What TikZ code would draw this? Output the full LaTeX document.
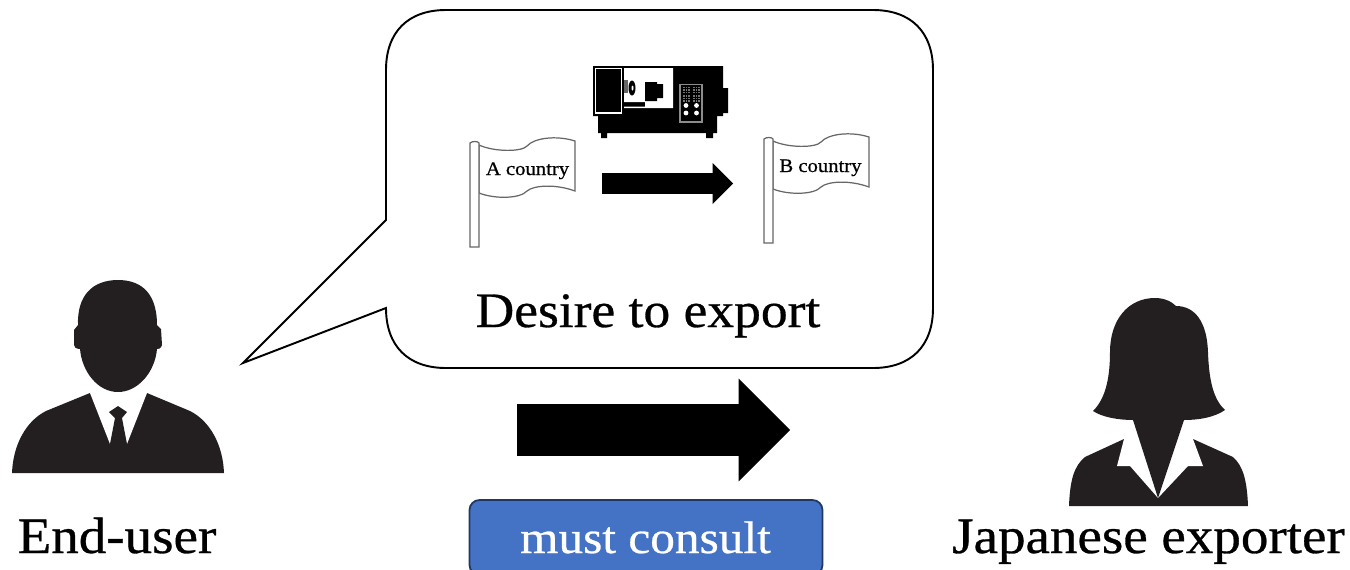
\documentclass[tikz,border=0pt]{standalone}
\usepackage{fontspec}
\setmainfont[FakeStretch=1.08,FakeBold=0.6]{Liberation Serif}
\usepackage{tikz}
\usetikzlibrary{shapes,arrows}
\usetikzlibrary{positioning}
\definecolor{silhouette}{HTML}{231F20}
\definecolor{consultblue}{HTML}{4472C4}
\definecolor{consultedge}{HTML}{203864}
\newcommand{\px}{0.02cm}
\tikzset{
  blockarrow/.style={single arrow,fill=black,outer sep=0pt,inner xsep=0pt,anchor=west,
    inner ysep=#1*0.25*\px,single arrow head extend=#1*0.25*\px},
  bigtext/.style={font=\fontsize{29}{32}\selectfont,inner sep=0pt,anchor=base},
  flagtext/.style={font=\fontsize{10.9}{13}\selectfont,inner sep=0pt,anchor=base},
  man/.style={fill=silhouette,draw=none},
  flagline/.style={draw=black!60,line width=0.7pt,fill=white},
  countryflag/.pic={
    \path[flagline] (479,145) .. controls (494,152) and (522,152) .. (527,146)
       .. controls (534,138) and (556,135) .. (575,141) -- (575,191)
       .. controls (556,184) and (534,185) .. (527,191)
       .. controls (520,199) and (494,199) .. (479,193) -- cycle;
    \path[flagline] (470,143) .. controls (472,141) and (478,141) .. (479,143)
       -- (479,247) -- (470,247) -- cycle;
  }
}

\begin{document}
\begin{tikzpicture}[x=\px,y=-\px]
      \path[clip,use as bounding box] (0,0) rectangle (1350,569);

      \draw[black,line width=1.1pt,fill=white]
        (386,220) -- (386,70) .. controls (386,32) and (408,10) .. (446,10)
        -- (873,10) .. controls (911,10) and (933,32) .. (933,70)
        -- (933,308) .. controls (933,346) and (911,368) .. (873,368)
        -- (446,368) .. controls (408,368) and (386,346) .. (386,308)
        -- (243,363) -- cycle;

      \pic {countryflag};
      \pic at (294,-4) {countryflag};
      \node[flagtext] (country_a) at (527.5,175) {A country};
      \node[flagtext] (country_b) at (820.5,172) {B country};

      \node[blockarrow=40, minimum height=131*\px] (ship) at (602,183.5) {};
      \node[blockarrow=102,minimum height=273*\px] (consult) at (517,430) {};

      % lathe
      \fill[black] (593,66) rectangle (723,116) (723,88) rectangle (728,113)
                   (598,116) rectangle (717,133)
                   (601,133) rectangle (607,138) (706,133) rectangle (713,138);
      \draw[white,line width=0.7pt] (595.5,68.5) rectangle (621.5,113);
      \fill[white] (624,68) rectangle (673,102) (645,102) rectangle (673,107)
                   (624,106.5) rectangle (673,108);
      \fill[black] (645,82) rectangle (657,101) (657,84) rectangle (663,98);
      \fill[black!60] (624,80) rectangle (628,93);
      \fill[black] (632,88) ellipse[x radius=3.5,y radius=7.5];
      \fill[white] (632.5,88) ellipse[x radius=1,y radius=2.5];
      \draw[black!45,line width=0.7pt,fill=black] (680,84.5) rectangle (702,122);
      \foreach \col in {682.5,693} {
        \foreach \row in {86.5,95} {
          \fill[black!55] (\col,\row) rectangle ++(7,6.5);
          \draw[black,line width=0.25pt] (\col+2.3,\row) -- ++(0,6.5) (\col+4.6,\row) -- ++(0,6.5)
                (\col,\row+2.2) -- ++(7,0) (\col,\row+4.4) -- ++(7,0);
        }
        \foreach \row in {105.5,113} {
          \fill[white] (\col+3.5,\row) circle[radius=2.4];
        }
      }

      \node[bigtext,font=\fontsize{28.2}{32}\selectfont] (desire) at (648,327) {Desire to export};

      % end-user
      \fill[man] (12,473) .. controls (13,445) and (26,421) .. (46,411)
        -- (90,393) -- (147,393) -- (190,411)
        .. controls (210,421) and (223,445) .. (224,473) -- cycle;
      \fill[white] (90,393) -- (110,444) -- (118,430) -- (127,444) -- (147,393) -- (118,385) -- cycle;
      \fill[man] (118,406) -- (127,412) -- (122,418) -- (127,444) -- (118,450)
        -- (110,444) -- (115,418) -- (109,412) -- cycle;
      \fill[man] (78,325) .. controls (77,296) and (92,280) .. (118,280)
        .. controls (136,280) and (157,288) .. (157,325)
        -- (161,329) -- (162,345) .. controls (161,349) and (158,349) .. (157,349)
        .. controls (155,372) and (138,392) .. (118,392)
        .. controls (98,392) and (82,372) .. (80,349)
        .. controls (76,349) and (74,347) .. (74,345) -- (74,330) -- cycle;
      \node[bigtext] (enduser) at (117,553) {End-user};

      % exporter
      \fill[man] (1069,506) .. controls (1070,480) and (1074,466) .. (1085,457)
        -- (1124,439) -- (1193,439) -- (1233,457)
        .. controls (1243,466) and (1247,480) .. (1248,506) -- cycle;
      \fill[white] (1124,439) -- (1117,466) -- (1130,466) -- (1158,498)
        -- (1188,466) -- (1203,466) -- (1193,439) -- cycle;
      \fill[man] (1155,298) .. controls (1165,298) and (1172,302) .. (1176,306)
        .. controls (1195,306) and (1207,322) .. (1208,352)
        .. controls (1209,382) and (1214,400) .. (1225,410)
        .. controls (1215,417) and (1200,420) .. (1184,420)
        -- (1158,498) -- (1133,420)
        .. controls (1118,420) and (1102,417) .. (1093,411)
        .. controls (1104,400) and (1110,382) .. (1110,352)
        .. controls (1110,320) and (1128,298) .. (1155,298) -- cycle;
      \node[bigtext] (exporter) at (1148.5,553) {Japanese exporter};

      \node[draw=consultedge,line width=1pt,fill=consultblue,rounded corners=5.7pt,
            minimum width=353*\px,minimum height=75*\px,inner sep=0pt] (mustbox) at (646,537.5) {};
      \node[bigtext,font=\fontsize{26}{28}\selectfont,text=white] (musttext) at (645.5,553) {must consult};
\end{tikzpicture}
\end{document}
